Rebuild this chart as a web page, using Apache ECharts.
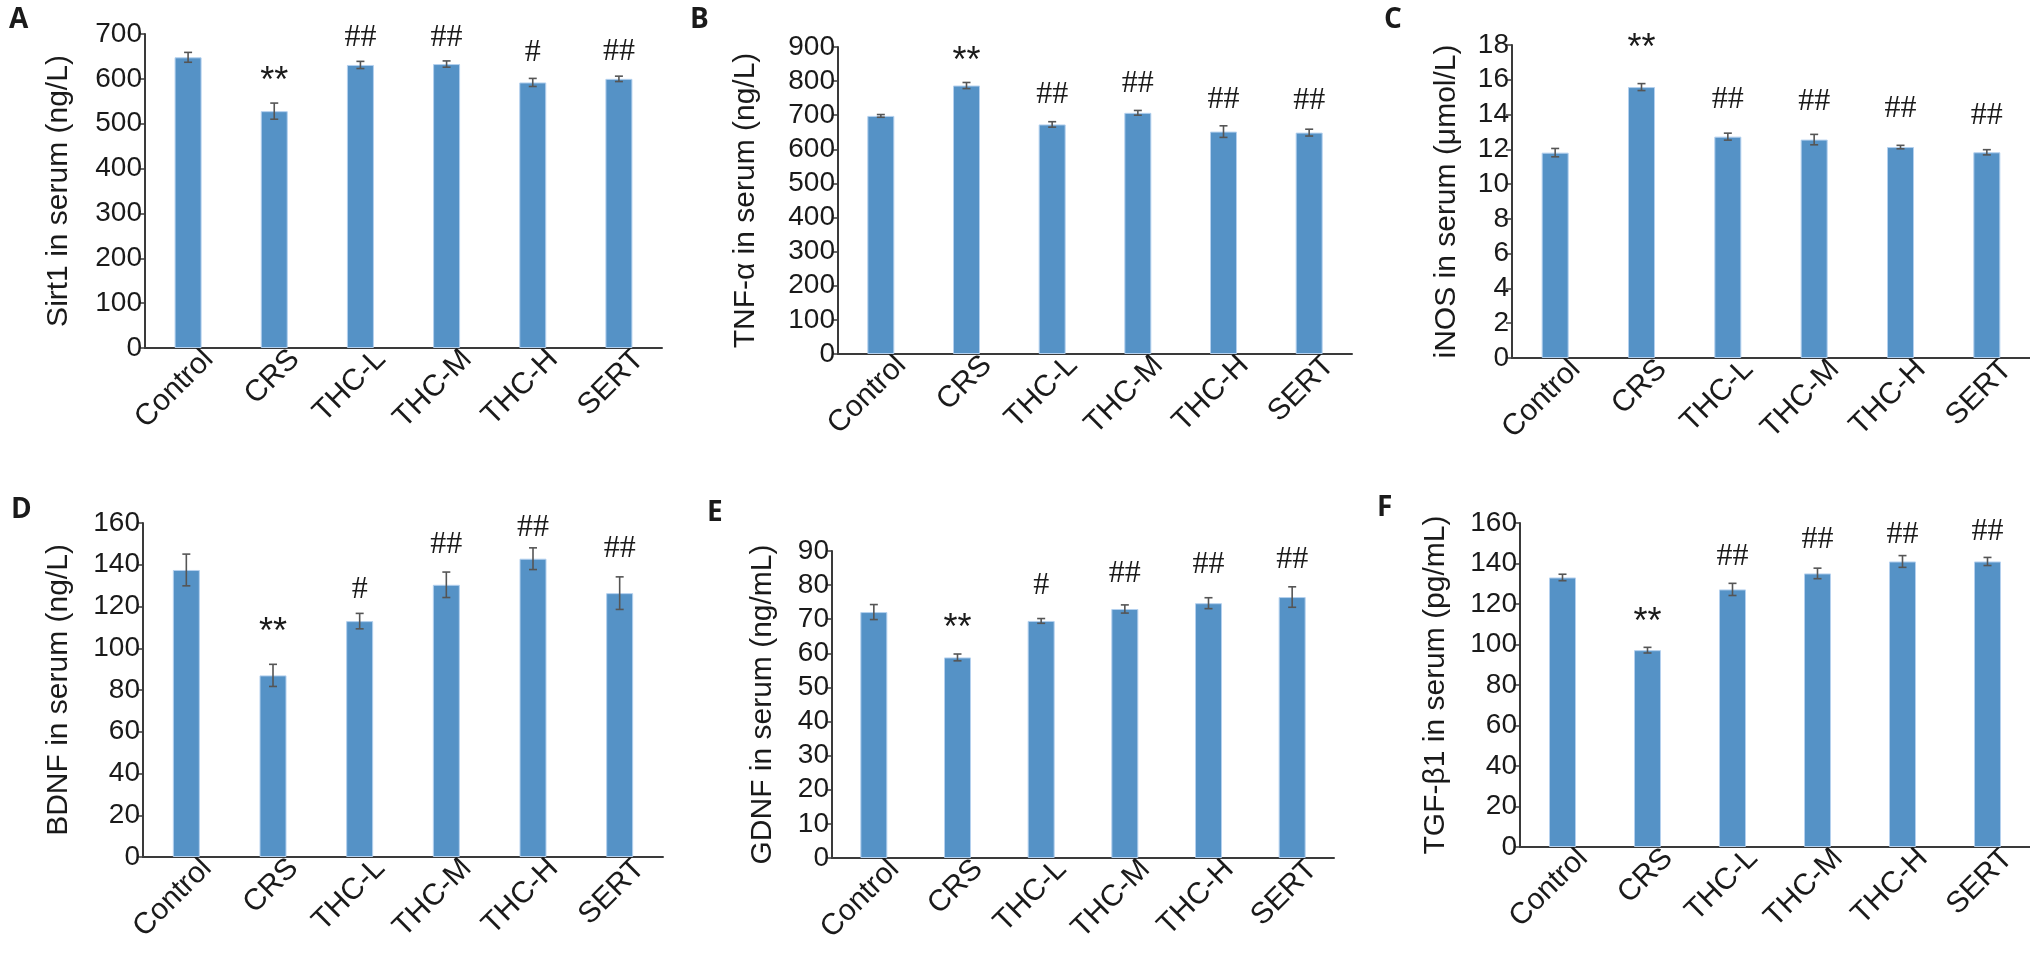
<!DOCTYPE html>
<html>
<head>
<meta charset="utf-8">
<script src="https://cdn.jsdelivr.net/npm/echarts@6/dist/echarts.min.js"></script>
<style>
  html, body { margin: 0; padding: 0; background: #fff; }
  #container { width: 2030px; height: 959px; }
</style>
</head>
<body>
<div id="container"></div>
<script>
// groups on every x axis
var groups = ['Control', 'CRS', 'THC-L', 'THC-M', 'THC-H', 'SERT'];

// A  Sirt1
var sirt1Mean = [648, 528, 631, 633, 592, 600];
var sirt1Err = [11, 18, 8, 7, 9, 6];
var sirt1Mark = ['', '**', '##', '##', '#', '##'];
var sirt1MarkY = [null, 610, 693, 693, 659, 661];

// B  TNF-a
var tnfMean = [698, 787, 673, 707, 652, 649];
var tnfErr = [4, 9, 8, 7, 17, 10];
var tnfMark = ['', '**', '##', '##', '##', '##'];
var tnfMarkY = [null, 880, 760, 793, 746, 744];

// C  iNOS
var inosMean = [11.81, 15.58, 12.73, 12.56, 12.13, 11.83];
var inosErr = [0.24, 0.2, 0.2, 0.3, 0.1, 0.15];
var inosMark = ['', '**', '##', '##', '##', '##'];
var inosMarkY = [null, 18.25, 14.88, 14.73, 14.35, 13.96];

// D  BDNF
var bdnfMean = [137.5, 87, 113, 130.4, 142.9, 126.4];
var bdnfErr = [7.6, 5.3, 3.7, 6.1, 5.2, 7.8];
var bdnfMark = ['', '**', '#', '##', '##', '##'];
var bdnfMarkY = [null, 111.1, 128.2, 149.6, 157.6, 147.6];

// E  GDNF
var gdnfMean = [72.1, 58.8, 69.5, 73, 74.7, 76.5];
var gdnfErr = [2.2, 1, 0.7, 1.2, 1.6, 3];
var gdnfMark = ['', '**', '#', '##', '##', '##'];
var gdnfMarkY = [null, 69.4, 80.0, 83.4, 85.9, 87.4];

// F  TGF-b1
var tgfMean = [133.1, 97.2, 127.2, 135.1, 141, 141];
var tgfErr = [1.6, 1.4, 3, 2.6, 2.9, 2];
var tgfMark = ['', '**', '##', '##', '##', '##'];
var tgfMarkY = [null, 114.4, 143.4, 151.6, 154.1, 155.7];

var yNames = ['Sirt1 in serum (ng/L)', 'TNF-\u03b1 in serum (ng/L)', 'iNOS in serum (\u03bcmol/L)',
              'BDNF in serum (ng/L)', 'GDNF in serum (ng/mL)', 'TGF-\u03b21 in serum (pg/mL)'];
var yMax = [700, 900, 18, 160, 90, 160];
var yStep = [100, 100, 2, 20, 10, 20];
var letters = ['A', 'B', 'C', 'D', 'E', 'F'];

var panels = [
  {mean: sirt1Mean, err: sirt1Err, mark: sirt1Mark, markY: sirt1MarkY},
  {mean: tnfMean, err: tnfErr, mark: tnfMark, markY: tnfMarkY},
  {mean: inosMean, err: inosErr, mark: inosMark, markY: inosMarkY},
  {mean: bdnfMean, err: bdnfErr, mark: bdnfMark, markY: bdnfMarkY},
  {mean: gdnfMean, err: gdnfErr, mark: gdnfMark, markY: gdnfMarkY},
  {mean: tgfMean, err: tgfErr, mark: tgfMark, markY: tgfMarkY}
];

var boxes = [
  {left: 145, top: 34, width: 517, height: 314},
  {left: 838, top: 47, width: 514, height: 307},
  {left: 1512, top: 45, width: 520, height: 313},
  {left: 143, top: 523, width: 520, height: 334},
  {left: 832, top: 551, width: 502, height: 307},
  {left: 1520, top: 523, width: 526, height: 324}
];
var nameGaps = [71, 77, 50, 69, 54, 69];
var letterPos = [[9, 6], [690, 6], [1384, 6], [11, 496], [707, 499], [1377, 494]];

var sans = "'Liberation Sans', Arial, sans-serif";
var barColor = '#5592c6';

var grid = [], xAxis = [], yAxis = [], series = [], title = [];

panels.forEach(function (p, i) {
  grid.push(boxes[i]);
  title.push({
    text: letters[i], left: letterPos[i][0], top: letterPos[i][1], padding: 0,
    textStyle: {fontSize: 28, fontWeight: 'bold', color: '#1a1a1a', fontFamily: "'Open Sans', sans-serif"}
  });
  xAxis.push({
    type: 'category', gridIndex: i, data: groups,
    axisLine: {lineStyle: {color: '#3a3a3a', width: 2}},
    axisTick: {show: false},
    axisLabel: {
      rotate: 45, interval: 0, margin: 6, align: 'right', verticalAlign: 'top',
      formatter: function (v) { return '{t|' + v + '}'; },
      rich: {t: {fontSize: 30, color: '#1a1a1a', fontFamily: sans, padding: [0, -14, 0, 0]}}
    }
  });
  yAxis.push({
    type: 'value', gridIndex: i, min: 0, max: yMax[i], interval: yStep[i],
    name: yNames[i], nameLocation: 'middle', nameGap: nameGaps[i],
    nameTextStyle: {fontSize: 30, color: '#1a1a1a', fontFamily: sans},
    axisLine: {show: true, lineStyle: {color: '#3a3a3a', width: 2}},
    axisTick: {show: true, length: 6, lineStyle: {color: '#3a3a3a', width: 1.5}},
    axisLabel: {fontSize: 28, color: '#1a1a1a', fontFamily: sans, margin: 3},
    splitLine: {show: false}
  });
  series.push({
    type: 'bar', xAxisIndex: i, yAxisIndex: i, data: p.mean, barWidth: 27,
    itemStyle: {color: barColor, borderColor: '#b4d0ee', borderWidth: 1}
  });
  // error bars
  series.push({
    type: 'custom', xAxisIndex: i, yAxisIndex: i,
    data: p.mean.map(function (m, k) { return [k, m - p.err[k], m + p.err[k]]; }),
    renderItem: function (params, api) {
      var lo = api.coord([api.value(0), api.value(1)]);
      var hi = api.coord([api.value(0), api.value(2)]);
      var c = 4;
      var st = {stroke: '#555', lineWidth: 1.6};
      return {type: 'group', children: [
        {type: 'line', shape: {x1: lo[0], y1: lo[1], x2: hi[0], y2: hi[1]}, style: st},
        {type: 'line', shape: {x1: lo[0] - c, y1: lo[1], x2: lo[0] + c, y2: lo[1]}, style: st},
        {type: 'line', shape: {x1: hi[0] - c, y1: hi[1], x2: hi[0] + c, y2: hi[1]}, style: st}
      ]};
    },
    z: 5
  });
  // significance marks
  series.push({
    type: 'custom', xAxisIndex: i, yAxisIndex: i, clip: false,
    data: p.mark.map(function (t, k) { return [k, p.markY[k] == null ? 0 : p.markY[k], t]; })
      .filter(function (d) { return d[2] !== ''; }),
    renderItem: function (params, api) {
      var pt = api.coord([api.value(0), api.value(1)]);
      var txt = api.value(2);
      var star = txt.charAt(0) === '*';
      return {
        type: 'text', x: pt[0], y: pt[1] + (star ? 8 : 0),
        style: {
          text: txt, align: 'center', verticalAlign: 'middle',
          fontSize: star ? 36 : 32,
          fontFamily: star ? sans : "'Liberation Serif', 'Times New Roman', serif",
          fill: '#1a1a1a'
        }
      };
    },
    z: 6
  });
});

var myChart = echarts.init(document.getElementById('container'));
myChart.setOption({
  backgroundColor: '#fff',
  animation: false,
  title: title,
  grid: grid,
  xAxis: xAxis,
  yAxis: yAxis,
  series: series
});
</script>
</body>
</html>
